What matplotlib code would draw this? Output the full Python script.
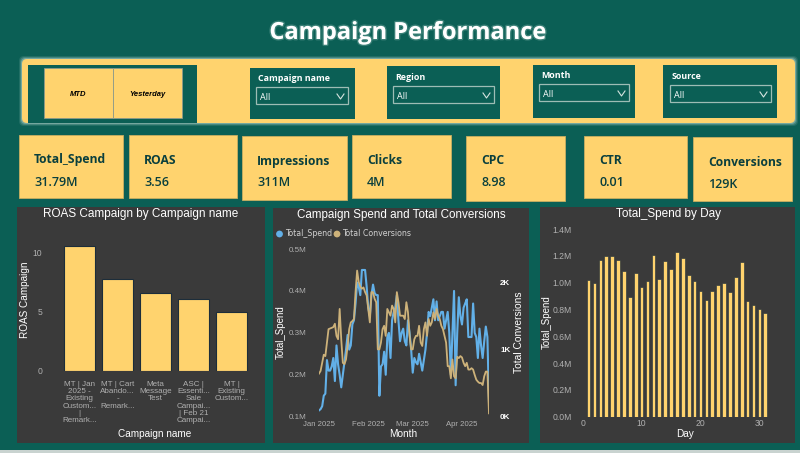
#!/usr/bin/python3

import matplotlib
matplotlib.use("Agg")
import pandas as pd
import matplotlib.dates as mdates
import matplotlib.patheffects as pe
from matplotlib import pyplot
from matplotlib.patches import Rectangle, FancyBboxPatch
from matplotlib.ticker import FuncFormatter

TEAL = "#0B5F55"
PANEL = "#3A3A3A"
YELLOW = "#FFD36E"
DARK = "#0A3F3D"
GREY = "#B0B0B0"
BLUE = "#62B0E8"
TAN = "#CDB27A"
EDGE = "#1C2D3A"
W, H = 800, 453

kpi_names = ["Total_Spend", "ROAS", "Impressions", "Clicks", "CPC", "CTR", "Conversions"]
kpi_values = ["31.79M", "3.56", "311M", "4M", "8.98", "0.01", "129K"]
slicer_names = ["Campaign name", "Region", "Month", "Source"]
button_names = ["MTD", "Yesterday"]

campaigns = [
    "MT | Jan\n2025 -\nExisting\nCustom...\n|\nRemark...",
    "MT | Cart\nAbando...\n-\nRemark...",
    "Meta\nMessage\nTest",
    "ASC |\nEssenti...\nSale\nCampai...\n| Feb 21\nCampai...",
    "MT |\nExisting\nCustom...",
]
roas = [10.55, 7.8, 6.55, 6.1, 5.0]

spend = [.115, .118, .125, .15, .155, .235, .21, .21, .22, .24, .185, .27, .225, .2, .17, .2, .23, .26,
         .295, .26, .27, .32, .33, .37, .42, .41, .39, .45, .45, .45, .41, .36, .34, .39, .415, .395,
         .39, .39, .15, .22, .225, .255, .2, .29, .3, .24, .33, .35, .36, .39, .33, .28, .3, .31,
         .28, .27, .33, .3, .26, .205, .24, .23, .225, .25, .23, .21, .235, .26, .3, .35, .34, .36,
         .38, .33, .375, .33, .34, .35, .35, .31, .33, .35, .3, .2, .3, .4, .175, .3, .385, .34,
         .32, .36, .37, .38, .29, .29, .29, .37, .3, .29, .24, .31, .27, .24, .28, .315, .29, .135]
conversions = [.64, .68, .8, .92, .9, 1.1, 1.3, 1.31, 1.32, 1.33, 1.38, 1.2, 1.15, 1.6, 1.15, .8, .78, .85,
               1.05, 1.3, 1.4, 1.42, 1.45, 1.85, 2.17, 2.0, 1.93, 1.9, 1.92, 1.85, 1.8, 1.6, 1.4, 1.85, 1.85, 1.75,
               1.7, 1.0, 1.0, 1.1, 1.3, 1.35, 1.2, 1.6, 1.55, 1.5, 1.65, 1.6, 1.4, 1.85, 1.7, 1.5, 1.5, 1.5,
               1.45, 1.7, 1.55, 1.2, 1.0, 1.0, 1.15, 1.2, 1.2, 1.35, 1.1, 1.05, 1.3, 1.4, 1.2, 1.45, 1.35, 1.4,
               1.55, 1.45, 1.6, 1.5, 1.45, 1.35, 1.3, 1.2, 1.1, .75, .75, .57, .85, .6, .57, .89, .87, .9,
               .88, .8, .75, .8, .7, .7, .72, .7, .62, .55, .52, .5, .5, .47, .6, .67, .67, .05]
month_ticks = ["2025-01-01", "2025-02-01", "2025-03-01", "2025-04-01"]

days = list(range(1, 32))
spend_by_day = [1.02, 1.0, 1.17, 1.2, 1.2, 1.17, 1.09, .89, 1.07, .965, 1.01, 1.205, 1.03, 1.16, 1.1, 1.23,
                1.18, 1.055, 1.01, .94, .87, .94, .98, 1.0, .93, 1.04, 1.155, .865, .83, .80, .775]

# pixel boxes of the page furniture: x0, y0, x1, y1
KPI_BOXES = [(19, 135, 123, 198), (129, 135, 237, 198), (242, 136, 347, 200), (352, 135, 451, 198),
             (466, 136, 565, 201), (584, 136, 687, 198), (693, 137, 792, 201)]
SLICER_BOXES = [(250, 68, 355, 119), (387, 66, 500, 119), (533, 65, 635, 118), (663, 65, 777, 118)]
DROP_BOXES = [(256, 87, 348, 104), (393, 86, 494, 103), (539, 84, 629, 101), (670, 85, 771, 102)]
BUTTON_BOXES = [(44, 68, 113, 118), (113, 68, 182, 118)]
PANELS = [(17, 207, 265, 443), (273, 208, 529, 443), (540, 207, 795, 443)]

pyplot.rcParams["font.family"] = ["Liberation Sans", "DejaVu Sans"]
fig = pyplot.figure(figsize=(W / 100, H / 100), dpi=100, facecolor=TEAL)
page = fig.add_axes([0, 0, 1, 1])
page.set_xlim(0, W)
page.set_ylim(H, 0)
page.axis("off")


def box(x0, y0, x1, y1, color, **kw):
    page.add_patch(Rectangle((x0, y0), x1 - x0, y1 - y0, facecolor=color, **kw))


def axes_px(x0, y0, x1, y1):
    ax = fig.add_axes([x0 / W, 1 - y1 / H, (x1 - x0) / W, (y1 - y0) / H])
    ax.patch.set_alpha(0)
    for s in ax.spines.values():
        s.set_visible(False)
    ax.tick_params(length=0, colors=GREY, labelsize=6.2)
    return ax


# bottom strip of the screenshot
box(0, 449.5, W, H, "#C9D3D0")

# title
page.text(408, 33, "Campaign Performance", color="white", fontsize=17, fontweight="bold",
          family="Open Sans", ha="center", va="center",
          path_effects=[pe.withStroke(linewidth=2, foreground="#8FBDB4", alpha=0.35)])

# filter bar with soft glow
for grow, alpha in [(3, 0.12), (2, 0.2), (1, 0.35)]:
    page.add_patch(FancyBboxPatch((22 - grow, 59 - grow), 773 + 2 * grow, 64 + 2 * grow,
                                  boxstyle="round,pad=0,rounding_size=5", facecolor="#CFE6DF",
                                  edgecolor="none", alpha=alpha))
page.add_patch(FancyBboxPatch((22, 59), 773, 64, boxstyle="round,pad=0,rounding_size=5",
                              facecolor=YELLOW, edgecolor="none"))
box(28, 65, 197, 123, TEAL)
for name, (x0, y0, x1, y1) in zip(button_names, BUTTON_BOXES):
    box(x0, y0, x1, y1, YELLOW, edgecolor="#8E9A8A", linewidth=0.6)
    page.text((x0 + x1) / 2, (y0 + y1) / 2 + 2, name, color="black", fontsize=5.5, fontweight="bold",
              fontstyle="italic", ha="center", va="center")
for name, sb, db in zip(slicer_names, SLICER_BOXES, DROP_BOXES):
    box(sb[0], sb[1], sb[2], sb[3], TEAL)
    box(db[0], db[1], db[2], db[3], TEAL, edgecolor="#9DBDB5", linewidth=0.9)
    page.text(db[0] + 2, db[1] - 8.5, name, color="white", fontsize=6.4, fontweight="bold",
              family="Open Sans", ha="left", va="center")
    page.text(db[0] + 4, db[1] + 10.5, "All", color="white", fontsize=6.5, family="Open Sans",
              ha="left", va="center")
    page.plot([db[2] - 11, db[2] - 7.5, db[2] - 4], [db[1] + 7, db[1] + 12, db[1] + 7],
              color="#D5E3DF", linewidth=0.8)

# KPI cards
for name, value, (x0, y0, x1, y1) in zip(kpi_names, kpi_values, KPI_BOXES):
    box(x0, y0, x1, y1, YELLOW, edgecolor="#C9AE62", linewidth=0.6)
    page.text(x0 + 15, y0 + 25, name, color=DARK, fontsize=8.7, fontweight="bold",
              family="Open Sans", ha="left", va="center")
    page.text(x0 + 15, y0 + 47, value, color=DARK, fontsize=9, fontweight="semibold",
              family="Open Sans", ha="left", va="center")

# chart panels
for x0, y0, x1, y1 in PANELS:
    box(x0, y0, x1, y1, PANEL)
page.text(141, 214, "ROAS Campaign by Campaign name", color="white", fontsize=8.5, ha="center", va="center")
page.text(401, 215, "Campaign Spend and Total Conversions", color="white", fontsize=8.4, ha="center", va="center")
page.text(668, 214, "Total_Spend by Day", color="white", fontsize=8.5, ha="center", va="center")

# ROAS bars
ax1 = axes_px(60.5, 229, 250.5, 371)
ax1.bar(range(len(campaigns)), roas, width=0.81, color=YELLOW, edgecolor=EDGE, linewidth=0.8)
ax1.set_xlim(-0.5, 4.5)
ax1.set_ylim(0, 12)
ax1.set_yticks([0, 5, 10])
ax1.set_xticks(range(len(campaigns)))
ax1.set_xticklabels(campaigns, linespacing=1.06, fontsize=5.8)
ax1.tick_params(axis="y", pad=13)
ax1.tick_params(axis="x", pad=7)
page.text(25, 300, "ROAS Campaign", color="white", fontsize=7.2, rotation=90, ha="center", va="center")
page.text(155, 434, "Campaign name", color="white", fontsize=7.2, ha="center", va="center")

# spend and conversions over time
dates = pd.date_range("2025-01-01", periods=len(spend), freq="D")
ax2 = axes_px(319, 249, 489, 416.7)
ax2.plot(dates, spend, color=BLUE, linewidth=1.5, solid_joinstyle="round")
ax2.set_ylim(0.1, 0.5)
ax2.set_xlim(dates[0], dates[-1])
ax2.set_yticks([0.1, 0.2, 0.3, 0.4, 0.5])
ax2.yaxis.set_major_formatter(FuncFormatter(lambda v, p: "{:.1f}M".format(v)))
ax2.set_xticks(pd.to_datetime(month_ticks))
ax2.xaxis.set_major_formatter(mdates.DateFormatter("%b %Y"))
ax2.tick_params(axis="y", pad=9, labelsize=5.8)
ax2.tick_params(axis="x", pad=3, labelsize=5.6)
ax3 = ax2.twinx()
ax3.patch.set_alpha(0)
for s in ax3.spines.values():
    s.set_visible(False)
ax3.plot(dates, conversions, color=TAN, linewidth=1.3, solid_joinstyle="round")
ax3.set_ylim(0, 2.49)
ax3.set_yticks([0, 1, 2])
ax3.yaxis.set_major_formatter(FuncFormatter(lambda v, p: "{:.0f}K".format(v)))
ax3.tick_params(axis="y", length=0, colors="white", labelsize=5.8, pad=8)
for t in ax3.get_yticklabels():
    t.set_fontweight("bold")
page.text(281, 332, "Total_Spend", color="white", fontsize=7, rotation=90, ha="center", va="center")
page.text(518.5, 332, "Total Conversions", color="white", fontsize=7.4, rotation=90, ha="center", va="center")
page.text(403, 434, "Month", color="white", fontsize=7.2, ha="center", va="center")
page.scatter([279.5, 337], [234, 234], s=24, color=[BLUE, TAN], linewidths=0)
page.text(285, 234, "Total_Spend", color="#D0D0D0", fontsize=5.7, family="DejaVu Sans", ha="left", va="center")
page.text(342, 234, "Total Conversions", color="#D0D0D0", fontsize=5.7, family="DejaVu Sans", ha="left", va="center")

# spend by day
ax4 = axes_px(582.7, 229, 771, 416.7)
ax4.bar(days, spend_by_day, width=0.62, color=YELLOW, edgecolor=EDGE, linewidth=0.4)
ax4.set_xlim(0, 188.3 / 5.89)
ax4.set_ylim(0, 1.4)
ax4.set_xticks([0, 10, 20, 30])
ax4.set_yticks([0, 0.2, 0.4, 0.6, 0.8, 1.0, 1.2, 1.4])
ax4.yaxis.set_major_formatter(FuncFormatter(lambda v, p: "{:.1f}M".format(v)))
ax4.tick_params(axis="y", pad=8)
ax4.tick_params(axis="x", pad=2)
page.text(547, 322, "Total_Spend", color="white", fontsize=7, rotation=90, ha="center", va="center")
page.text(685, 434, "Day", color="white", fontsize=7.2, ha="center", va="center")

fig.savefig("out.png", dpi=100, facecolor=TEAL)
